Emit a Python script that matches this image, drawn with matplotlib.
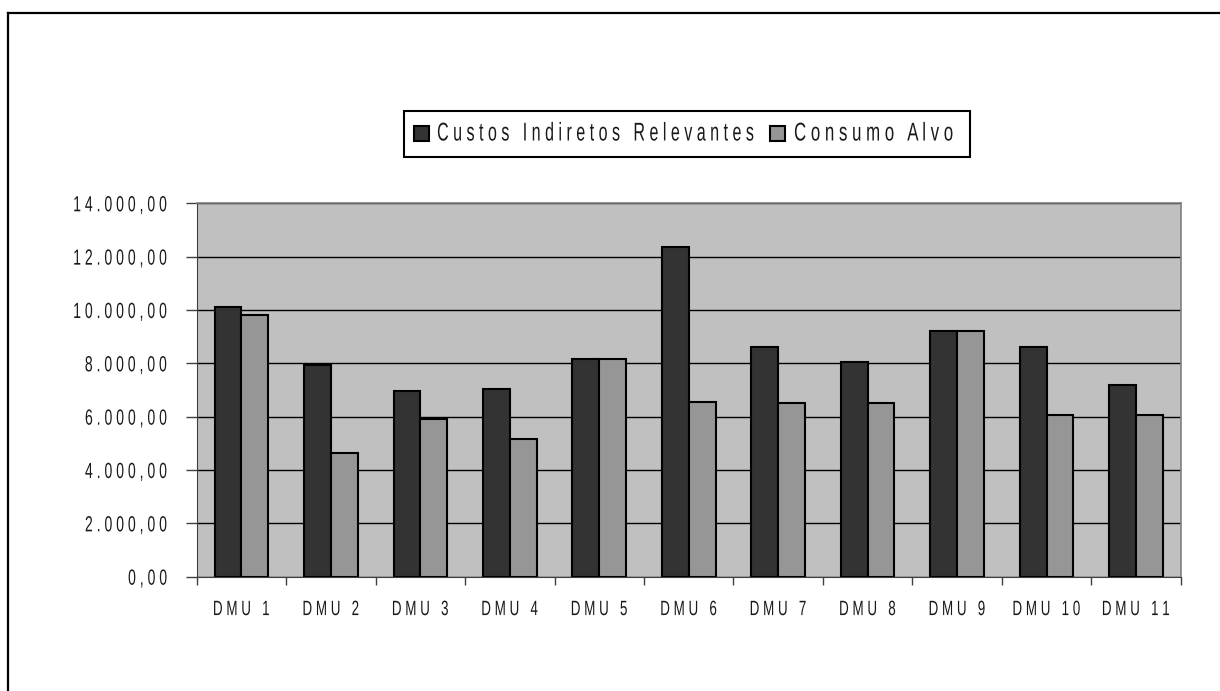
import matplotlib
matplotlib.use("Agg")
import matplotlib.pyplot as plt
from matplotlib.lines import Line2D
from matplotlib.patches import Rectangle
from matplotlib.patheffects import AbstractPathEffect
from matplotlib.ticker import FixedLocator
from matplotlib.transforms import Affine2D
import numpy as np

categories = ["DMU 1", "DMU 2", "DMU 3", "DMU 4", "DMU 5", "DMU 6",
              "DMU 7", "DMU 8", "DMU 9", "DMU 10", "DMU 11"]
custos_indiretos = [10100, 7930, 6960, 7020, 8150, 12350,
                    8600, 8060, 9210, 8600, 7180]
consumo_alvo = [9800, 4630, 5900, 5150, 8150, 6560,
                6500, 6500, 9210, 6050, 6050]
y_ticks = [0, 2000, 4000, 6000, 8000, 10000, 12000, 14000]
series_names = ["Custos Indiretos Relevantes", "Consumo Alvo"]
series_colors = ["#333333", "#969696"]

plt.rcParams["font.family"] = ["Liberation Sans", "DejaVu Sans"]

W, H = 1220, 691


class Squeeze(AbstractPathEffect):
    """Rescale the glyph outlines (tall, narrow lettering) about an anchor
    on the baseline; there is no condensed font to do this for us."""

    def __init__(self, sx, sy=1.0, anchor="left"):
        super().__init__()
        self.sx = sx
        self.sy = sy
        self.anchor = anchor

    def draw_path(self, renderer, gc, tpath, affine, rgbFace=None):
        ext = tpath.get_extents()
        if self.anchor == "right":
            x0 = ext.x1
        elif self.anchor == "center":
            x0 = (ext.x0 + ext.x1) / 2
        else:
            x0 = ext.x0
        t = Affine2D().translate(-x0, 0).scale(self.sx, self.sy).translate(x0, 0)
        renderer.draw_path(gc, tpath, t + affine, rgbFace)


def spaced(s):
    # letter-spaced labels
    return " ".join(s)


def br_number(v):
    s = f"{v:,.2f}"
    s = s.replace(",", "X").replace(".", ",").replace("X", ".")
    return spaced(s)


def px(x, y):
    # pixel position (from top-left) -> figure fraction
    return x / W, 1 - y / H


fig = plt.figure(figsize=(W / 100, H / 100), dpi=100)
ax = fig.add_axes([196.7 / W, 1 - 576.7 / H, 984 / W, 373.4 / H])
ax.set_facecolor("#C0C0C0")

x = np.arange(len(categories))
w = 0.3
b1 = ax.bar(x - w / 2, custos_indiretos, w, color=series_colors[0],
            edgecolor="black", linewidth=1.5, zorder=3)
b2 = ax.bar(x + w / 2, consumo_alvo, w, color=series_colors[1],
            edgecolor="black", linewidth=1.5, zorder=3)

ax.set_xlim(-0.5, len(categories) - 0.5)
ax.set_ylim(0, 14000)

ax.set_yticks(y_ticks)
ax.set_yticklabels([br_number(v) for v in y_ticks], fontsize=15.8)
ax.yaxis.grid(True, color="black", linewidth=1.0, zorder=1)
ax.set_axisbelow(True)
ax.tick_params(axis="y", length=8, width=1, color="#404040", pad=13,
               labelcolor="#1a1a1a")
for lbl in ax.get_yticklabels():
    lbl.set_path_effects([Squeeze(0.64, 1.0, "right")])

ax.set_xticks(x)
ax.set_xticklabels([spaced(c) for c in categories], fontsize=11.5)
ax.xaxis.set_minor_locator(FixedLocator(np.arange(len(categories) + 1) - 0.5))
ax.tick_params(axis="x", which="major", length=0, pad=19, labelcolor="#1a1a1a")
ax.tick_params(axis="x", which="minor", length=6, width=1, color="#404040")
for lbl in ax.get_xticklabels():
    lbl.set_path_effects([Squeeze(0.84, 1.3, "center")])

for side in ["top", "right"]:
    ax.spines[side].set_color("#808080")
    ax.spines[side].set_linewidth(1.2)
ax.spines["left"].set_color("#404040")
ax.spines["bottom"].set_color("#404040")

# legend box: frame, colour keys and letter-spaced names
x0, y0 = px(404.3, 157)
x1, y1 = px(970, 110.7)
fig.add_artist(Rectangle((x0, y0), x1 - x0, y1 - y0, transform=fig.transFigure,
                         facecolor="white", edgecolor="black", linewidth=1.5))
key_x = [414, 770]
text_x = [437, 794]
text_sx = [0.925, 0.97]
for name, color, kx, tx, sx in zip(series_names, series_colors,
                                   key_x, text_x, text_sx):
    kx0, ky0 = px(kx, 141)
    kx1, ky1 = px(kx + 15, 126)
    fig.add_artist(Rectangle((kx0, ky0), kx1 - kx0, ky1 - ky0,
                             transform=fig.transFigure, facecolor=color,
                             edgecolor="black", linewidth=1.5))
    t = fig.text(*px(tx, 140.5), spaced(name), fontsize=12.5, color="#1a1a1a",
                 ha="left", va="baseline")
    t.set_path_effects([Squeeze(sx, 1.48, "left")])

# outer frame of the chart area (runs off the right and bottom edge)
fig.add_artist(Line2D([8 / W, 8 / W], [1 - 13.3 / H, -0.1],
                      transform=fig.transFigure, color="black", linewidth=1.6))
fig.add_artist(Line2D([8 / W, 1.1], [1 - 13.3 / H, 1 - 13.3 / H],
                      transform=fig.transFigure, color="black", linewidth=1.6))

fig.savefig("out.png", dpi=100)
